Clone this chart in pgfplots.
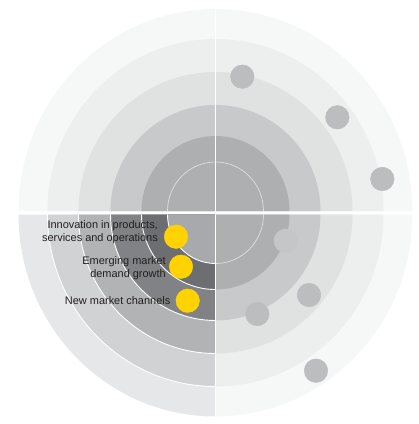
\documentclass[border=0pt]{standalone}
\usepackage{pgfplots}
\pgfplotsset{compat=1.18}
\usepackage{pgfplotstable}
\usepackage{fontspec}
\setmainfont{Liberation Sans}

% ring colours, outer to inner
\definecolor{la}{HTML}{F6F7F7}
\definecolor{lb}{HTML}{EDEEEE}
\definecolor{lc}{HTML}{E0E1E1}
\definecolor{ld}{HTML}{C8C9CA}
\definecolor{le}{HTML}{AEAFB0}
\definecolor{da}{HTML}{E6E7E8}
\definecolor{db}{HTML}{D1D2D4}
\definecolor{dc}{HTML}{B1B3B5}
\definecolor{dd}{HTML}{808285}
\definecolor{de}{HTML}{6D6E71}
\definecolor{df}{HTML}{A7A9AC}
\definecolor{dotgray}{HTML}{BCBDBF}
\definecolor{dotlight}{HTML}{C5C6C8}
\definecolor{ey}{HTML}{FFD200}
\definecolor{txt}{HTML}{231F20}

% pixel positions of the dots
\pgfplotstableread{
x y
242.3 76.7
337.3 117.3
382.3 179.0
309.0 295.0
257.3 314.0
316.0 370.7
}\graydots
\pgfplotstableread{
x y
285.7 240.7
}\lightdots
\pgfplotstableread{
x y
176.0 236.7
181.0 266.7
187.7 300.7
}\yellowdots

% quarter disc: cx cy start end rx ry colour
\newcommand\qfill[7]{\fill[#7] (axis cs:#1,#2) -- ++(#3:#5bp and #6bp) arc[start angle=#3, end angle=#4, x radius=#5bp, y radius=#6bp] -- cycle;}
\newcommand\qarc[7]{\draw[#7] (axis cs:#1,#2) ++(#3:#5bp and #6bp) arc[start angle=#3, end angle=#4, x radius=#5bp, y radius=#6bp];}

\begin{document}
\begin{tikzpicture}
\begin{axis}[
  hide axis, scale only axis,
  width=419bp, height=424bp,
  xmin=0, xmax=419, ymin=0, ymax=424,
  y dir=reverse, clip=false]
\path (axis cs:0,0) rectangle (axis cs:419,424);

% top-left
\qfill{215.5}{211}{90}{180}{197}{202}{la}
\qfill{215.5}{211}{90}{180}{168}{172}{lb}
\qfill{215.5}{211}{90}{180}{137}{139}{lc}
\qfill{215.5}{211}{90}{180}{105}{106}{ld}
\qfill{215.5}{211}{90}{180}{74}{75}{le}
% top-right
\qfill{215.5}{211}{0}{90}{197}{202}{la}
\qfill{215.5}{211}{0}{90}{168}{172}{lb}
\qfill{215.5}{211}{0}{90}{137}{139}{lc}
\qfill{215.5}{211}{0}{90}{105}{106}{ld}
\qfill{215.5}{211}{0}{90}{74}{75}{le}
\qarc{215.5}{211}{0}{180}{48}{49}{white!60!le, line width=0.7bp}
% bottom-right
\qfill{215.5}{214.5}{270}{360}{197}{202}{la}
\qfill{215.5}{214.5}{270}{360}{168}{172}{lb}
\qfill{215.5}{214.5}{270}{360}{137}{139}{lc}
\qfill{215.5}{214.5}{270}{360}{105}{106}{ld}
\qfill{215.5}{214.5}{270}{360}{74}{75}{le}
\qarc{215.5}{214.5}{270}{360}{48}{49}{white!60!le, line width=0.7bp}
% bottom-left
\qfill{215.5}{214.5}{180}{270}{197}{202}{da}
\qfill{215.5}{214.5}{180}{270}{168}{172}{db}
\qfill{215.5}{214.5}{180}{270}{137}{139}{dc}
\qfill{215.5}{214.5}{180}{270}{105}{106}{dd}
\qfill{215.5}{214.5}{180}{270}{74}{75}{de}
\qfill{215.5}{214.5}{180}{270}{48}{49}{df}
\qarc{215.5}{214.5}{180}{270}{168}{172}{white, line width=0.9bp}
\qarc{215.5}{214.5}{180}{270}{137}{139}{white, line width=0.9bp}
\qarc{215.5}{214.5}{180}{270}{105}{106}{white, line width=0.9bp}
\qarc{215.5}{214.5}{180}{270}{74}{75}{white, line width=0.9bp}
\qarc{215.5}{214.5}{180}{270}{48}{49}{white, line width=0.9bp}

\draw[white, line width=1.4bp] (axis cs:215.5,5) -- (axis cs:215.5,420);

\addplot[only marks, color=dotgray, mark=*, mark size=11.8bp, mark options={draw=dotgray, fill=dotgray}] table {\graydots};
\addplot[only marks, color=dotlight, mark=*, mark size=11.8bp, mark options={draw=dotlight, fill=dotlight}] table {\lightdots};
\addplot[only marks, color=ey, mark=*, mark size=11.8bp, mark options={draw=ey, fill=ey}] table {\yellowdots};

\begin{scope}[every node/.style={anchor=east, align=right, inner sep=0pt, text=txt, font=\fontsize{11}{13}\selectfont}]
\node at (axis cs:158,232) {Innovation in products,\\services and operations};
\node at (axis cs:166,268) {Emerging market\\demand growth};
\node at (axis cs:170.5,301) {New market channels};
\end{scope}
\end{axis}
\end{tikzpicture}
\end{document}
